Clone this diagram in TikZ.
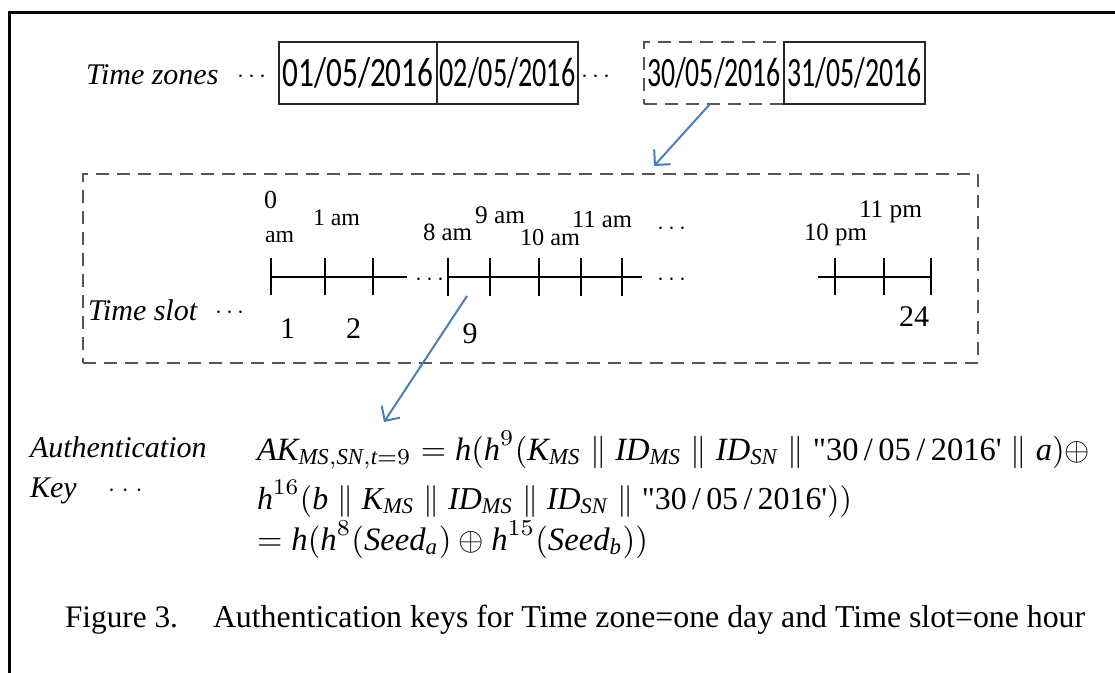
\documentclass[tikz,border=0pt]{standalone}
\usepackage{fontspec}
\usepackage{amsmath}
\usepackage{graphicx}
\setmainfont{Liberation Serif}
\setsansfont{Carlito}
\usetikzlibrary{arrows.meta}
\definecolor{arrowblue}{RGB}{74,126,187}
\definecolor{dashgray}{RGB}{85,85,85}
\newcommand{\fw}[2]{\resizebox{#1pt}{!}{#2}}
\newcommand{\fwh}[3]{\resizebox{#1pt}{#2pt}{#3}}
\newcommand{\mt}[1]{\textit{#1}}
\newcommand{\dq}{\text{\addfontfeatures{Ligatures=TeXOff}"30\,/\,05\,/\,2016'}}
\begin{document}
\begin{tikzpicture}[x=1pt,y=-1pt,
  txt/.style={inner sep=0pt,outer sep=0pt,anchor=base west},
  itl/.style={txt,font=\fontsize{30}{36}\selectfont\itshape},
  dotsx/.style={txt,font=\fontsize{36}{40}\selectfont},
  num/.style={inner sep=0pt,outer sep=0pt,anchor=base,font=\fontsize{30}{36}\selectfont},
  datebox/.style={draw=black!85,line width=1.6pt,inner sep=0pt,minimum height=62pt},
  dashbox/.style={draw=dashgray,line width=2pt,dash pattern=on 13pt off 8pt,inner sep=0pt},
  link/.style={draw=arrowblue,line width=2pt,-{Straight Barb[length=11pt,width=22pt]}},
  tline/.style={line width=1.8pt,black},
]
\useasboundingbox (0,0) rectangle (1115,672);
% outer frame (cut by the page at right and bottom)
\draw[line width=3pt] (9.5,700) -- (9.5,12.5) -- (1140,12.5);

% ---- time zones row
\node[itl] (tz) at (86,84) {Time zones};
\node[dotsx] (tzd) at (237,82) {$\cdotp\cdotp\cdotp$};
\node[datebox,minimum width=158pt] (z1) at (358,73) {\raisebox{-3pt}{\sffamily\fwh{151}{29}{01/05/2016}}};
\node[datebox,minimum width=141pt] (z2) at (507.5,73) {\raisebox{-3pt}{\sffamily\fwh{136}{29}{02/05/2016}}};
\node[dotsx] (zd) at (581,82) {$\cdotp\cdotp\cdotp$};
\node[dashbox,minimum width=140pt,minimum height=62pt] (z3) at (714,73) {\raisebox{-3pt}{\sffamily\fwh{134}{29}{30/05/2016}}};
\node[datebox,minimum width=141pt] (z4) at (854.5,73) {\raisebox{-3pt}{\sffamily\fwh{134}{29}{31/05/2016}}};

% ---- time slot box
\node[dashbox,minimum width=895pt,minimum height=189pt] (slots) at (530.5,268.5) {};
\coordinate (a1s) at (710,104);
\coordinate (a1e) at (654,166);
\draw[link] (a1s) -- (a1e);

% timeline
\draw[tline] (271,277) -- (407,277);
\foreach \x in {271,325,373} \draw[tline] (\x,258) -- (\x,295);
\node[dotsx] (td1) at (415,285) {$\cdotp\cdotp\cdotp$};
\draw[tline] (448,277) -- (642,277);
\foreach \x in {448,490,539,581,622} \draw[tline] (\x,258) -- (\x,296);
\node[dotsx] (td2) at (657,285) {$\cdotp\cdotp\cdotp$};
\node[dotsx] (td3) at (657,234) {$\cdotp\cdotp\cdotp$};
\draw[tline] (818,277) -- (931,277);
\foreach \x in {835,884,931} \draw[tline] (\x,258) -- (\x,295);

% hour labels
\node[txt] (h0a) at (264,208) {\fw{13}{0}};
\node[txt] (h0b) at (265,242) {\fw{29}{am}};
\node[txt] (h1) at (313,225) {\fw{47}{1 am}};
\node[txt] (h8) at (423,240) {\fw{49}{8 am}};
\node[txt] (h9) at (475,223) {\fw{50}{9 am}};
\node[txt] (h10) at (520,245) {\fw{60}{10 am}};
\node[txt] (h11) at (572,227) {\fw{60}{11 am}};
\node[txt] (h22) at (804,240) {\fw{63}{10 pm}};
\node[txt] (h23) at (859,217) {\fw{63}{11 pm}};

% slot numbers
\node[itl] (ts) at (88,320) {Time slot};
\node[dotsx] (tsd) at (215,318) {$\cdotp\cdotp\cdotp$};
\node[num] (n1) at (287.5,338) {1};
\node[num] (n2) at (353.5,338) {2};
\node[num] (n9) at (470,343) {9};
\node[num] (n24) at (914,326) {24};

\coordinate (a2s) at (467,296);
\coordinate (a2e) at (384,422);
\draw[link] (a2s) -- (a2e);

% ---- authentication key
\node[itl] (ak1) at (30,457) {Authentication};
\node[itl] (ak2) at (30,497) {Key};
\node[dotsx] (akd) at (108,496) {$\cdotp\mkern2mu\cdotp\mkern2mu\cdotp$};

\node[txt] (f1) at (257,460) {\fw{833}{$\mt{AK}_{\mt{MS},\mt{SN},\mt{t}=9} = \mt{h}(\mt{h}^{9}(\mt{K}_{\mt{MS}} \parallel \mt{ID}_{\mt{MS}} \parallel \mt{ID}_{\mt{SN}} \parallel\dq\parallel \mt{a})\oplus$}};
\node[txt] (f2) at (257,509) {\fw{595}{$\mt{h}^{16}(\mt{b} \parallel \mt{K}_{\mt{MS}} \parallel \mt{ID}_{\mt{MS}} \parallel \mt{ID}_{\mt{SN}} \parallel\dq))$}};
\node[txt] (f3) at (257,550) {\fw{391}{$= \mt{h}(\mt{h}^{8}(\mt{Seed}_{\mt{a}}) \oplus \mt{h}^{15}(\mt{Seed}_{\mt{b}}))$}};

% ---- caption
\node[txt] (cap1) at (65,627) {\fw{113}{Figure 3.}};
\node[txt] (cap2) at (213,627) {\fw{872}{Authentication keys for Time zone=one day and Time slot=one hour}};
\end{tikzpicture}
\end{document}
